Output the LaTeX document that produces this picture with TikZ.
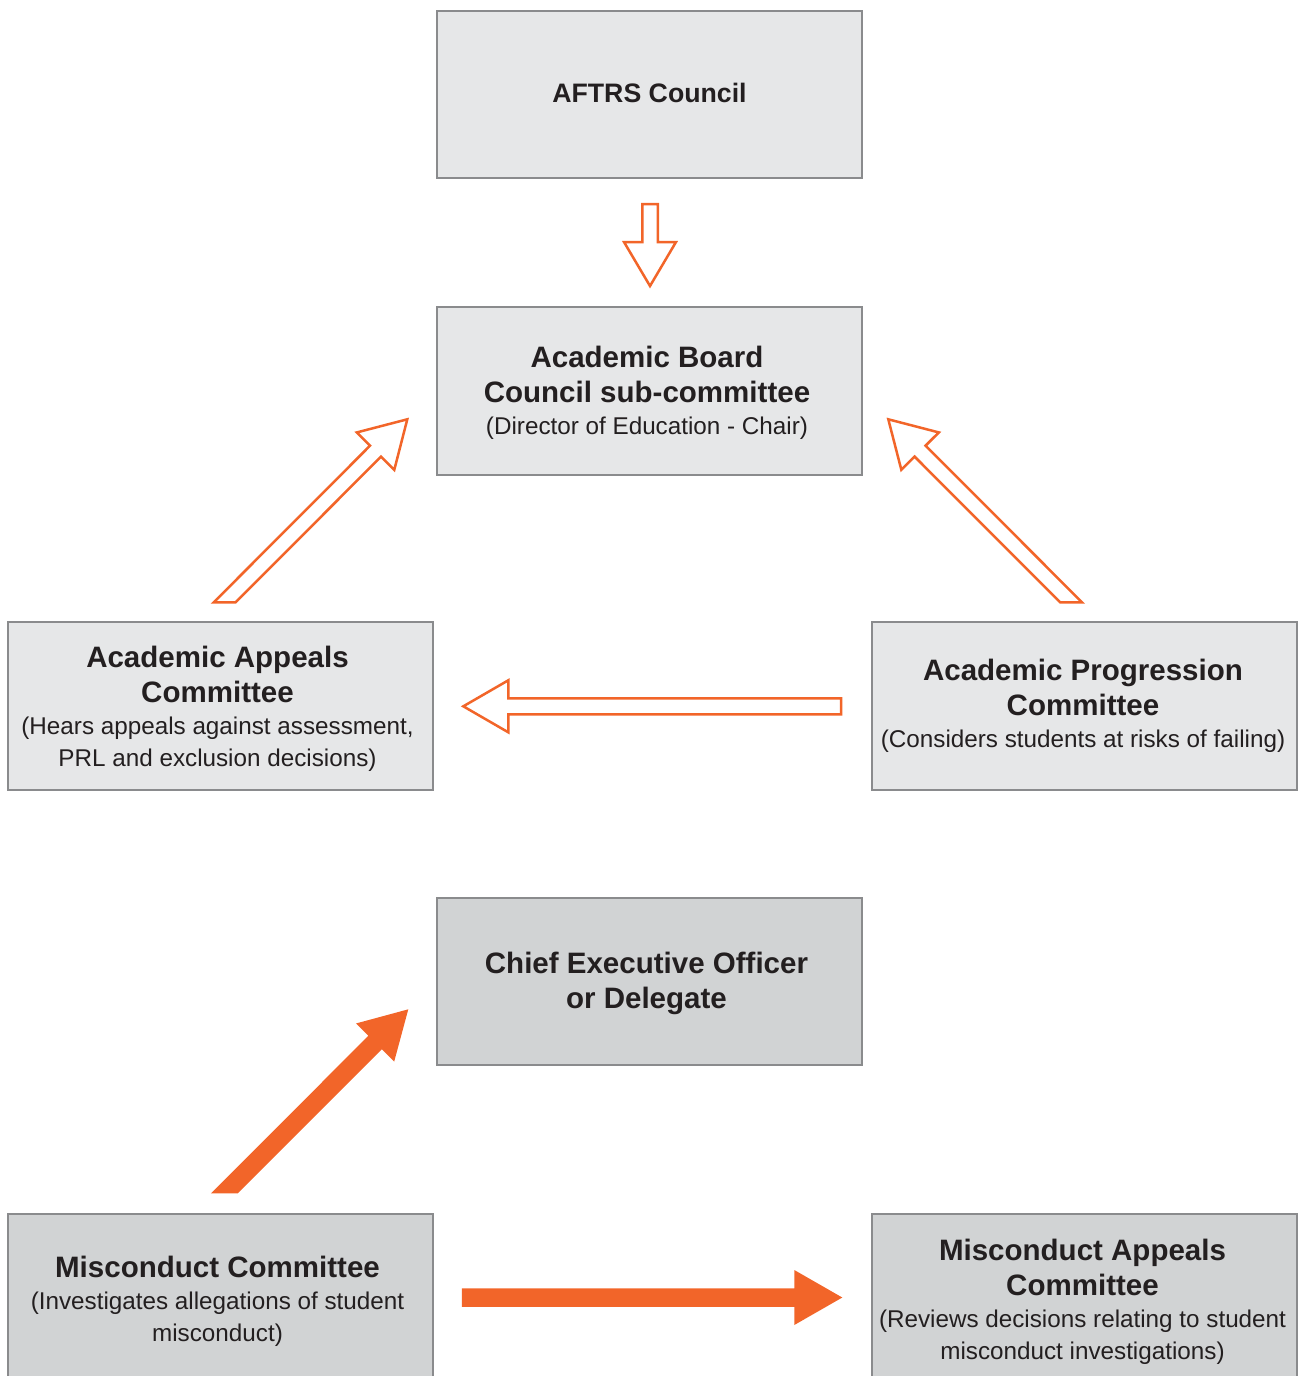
\documentclass[tikz,border=0pt]{standalone}
\usepackage{fontspec}
\setmainfont{Liberation Sans}
\usetikzlibrary{calc}

\definecolor{boxline}{HTML}{8A8B8D}
\definecolor{lightfill}{HTML}{E6E7E8}
\definecolor{darkfill}{HTML}{D1D3D4}
\definecolor{arrorange}{HTML}{F26529}
\definecolor{inktext}{HTML}{231F20}

% bold heading line inside a box
\newcommand{\ttl}[1]{{\fontsize{16.8}{18.2}\selectfont\bfseries #1}}

% block arrow: style, tail, tip, half shaft, half head, head length, tail cut direction
\newcommand{\blockarrow}[7]{%
  \coordinate (hb)  at ($(#3)!#6!(#2)$);
  \coordinate (cut) at ($(#2)+#7$);
  \coordinate (sl)  at ($(hb)!#4!90:(#3)$);
  \coordinate (sr)  at ($(hb)!#4!-90:(#3)$);
  \coordinate (sl0) at ($(#2)!#4!90:(#3)$);
  \coordinate (sr0) at ($(#2)!#4!-90:(#3)$);
  \draw[#1] (intersection of sl--sl0 and #2--cut) -- (sl)
    -- ($(hb)!#5!90:(#3)$) -- (#3) -- ($(hb)!#5!-90:(#3)$)
    -- (sr) -- (intersection of sr--sr0 and #2--cut) -- cycle;
}

\begin{document}
\begin{tikzpicture}[
    x=0.02cm, y=-0.02cm,
    body/.style={draw=boxline, line width=0.04cm, fill=lightfill, minimum width=8.5cm, minimum height=3.36cm, inner sep=0pt},
    dbody/.style={body, fill=darkfill},
    txt/.style={inner sep=0pt, align=center, text=inktext, font=\fontsize{13.8}{18.2}\selectfont},
    openarr/.style={draw=arrorange, line width=0.05cm, fill=white, line join=miter},
    fullarr/.style={fill=arrorange, draw=none},
  ]
  \useasboundingbox (0,0) rectangle (1301,1376);
  \clip (0,0) rectangle (1301,1376);

  % Academic side
  \node[body] (council)  at (649.5, 94.5) {};
  \node[body] (board)    at (649.5, 391)  {};
  \node[body] (appeals)  at (220.5, 706)  {};
  \node[body] (progress) at (1084.5, 706) {};

  % Misconduct side
  \node[dbody] (ceo)        at (649.5, 981.5)  {};
  \node[dbody] (misconduct) at (220.5, 1297.5) {};
  \node[dbody] (mappeals)   at (1084.5, 1297.5) {};

  % Box texts
  \node[txt, font=\fontsize{15.2}{18}\selectfont\bfseries] (councilt) at ($(council)+(0,-2)$) {AFTRS Council};
  \node[txt] (boardt)      at ($(board)+(-2.5,2)$)    {\ttl{Academic Board}\\[1.7pt]\ttl{Council sub-committee}\\(Director of Education - Chair)};
  \node[txt] (appealst)    at ($(appeals)+(-3,3)$)    {\ttl{Academic Appeals}\\[1.7pt]\ttl{Committee}\\(Hears appeals against assessment,\\PRL and exclusion decisions)};
  \node[txt] (progresst)   at ($(progress)+(-1.5,0)$) {\ttl{Academic Progression}\\[1.7pt]\ttl{Committee}\\(Considers students at risks of failing)};
  \node[txt] (ceot)        at ($(ceo)+(-3,2)$)        {\ttl{Chief Executive Officer}\\[1.7pt]\ttl{or Delegate}};
  \node[txt] (misconductt) at ($(misconduct)+(-3,4)$) {\ttl{Misconduct Committee}\\(Investigates allegations of student\\misconduct)};
  \node[txt] (mappealst)   at ($(mappeals)+(-2,4)$)   {\ttl{Misconduct Appeals}\\[1.7pt]\ttl{Committee}\\(Reviews decisions relating to student\\misconduct investigations)};

  % Arrow ends
  \coordinate (councilout)  at (650, 204);
  \coordinate (boardin)     at (650, 286);
  \coordinate (appealsout)  at (224.7, 602.3);
  \coordinate (boardinl)    at (407.3, 419.3);
  \coordinate (progressout) at (1071, 602.3);
  \coordinate (boardinr)    at (888.3, 419.3);
  \coordinate (progressl)   at (841, 706.3);
  \coordinate (appealsin)   at (463.3, 706.3);
  \coordinate (miscout)     at (224.4, 1193.3);
  \coordinate (ceoin)       at (408.3, 1009.3);
  \coordinate (miscr)       at (461.7, 1297.5);
  \coordinate (mappealsin)  at (842.3, 1297.5);

  % Edges
  \blockarrow{openarr}{councilout}{boardin}{0.155cm}{0.52cm}{0.88cm}{(1,0)}
  \blockarrow{openarr}{appealsout}{boardinl}{0.155cm}{0.53cm}{0.9cm}{(1,0)}
  \blockarrow{openarr}{progressout}{boardinr}{0.155cm}{0.53cm}{0.9cm}{(1,0)}
  \blockarrow{openarr}{progressl}{appealsin}{0.16cm}{0.52cm}{0.9cm}{(0,1)}
  \blockarrow{fullarr}{miscout}{ceoin}{0.19cm}{0.54cm}{0.94cm}{(1,0)}
  \blockarrow{fullarr}{miscr}{mappealsin}{0.185cm}{0.55cm}{0.96cm}{(0,1)}
\end{tikzpicture}
\end{document}
